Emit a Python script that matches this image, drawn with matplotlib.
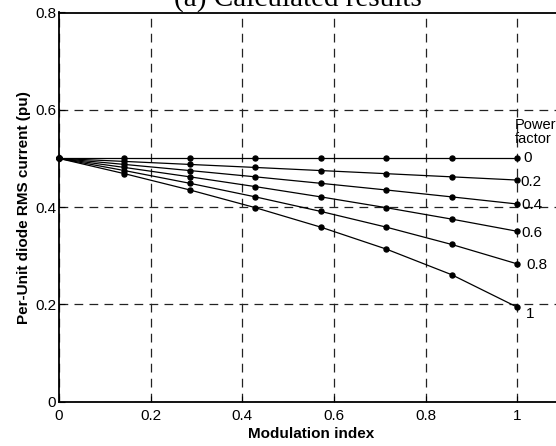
import matplotlib
matplotlib.use("Agg")
import matplotlib.pyplot as plt

modulation_index = [0, 0.1429, 0.2857, 0.4286, 0.5714, 0.7143, 0.8571, 1.0]
power_factors = ["0", "0.2", "0.4", "0.6", "0.8", "1"]
rms_pf0 = [0.5, 0.5, 0.5, 0.5, 0.5, 0.5, 0.5, 0.5]
rms_pf02 = [0.5, 0.4939, 0.4877, 0.4815, 0.4751, 0.4687, 0.4622, 0.4556]
rms_pf04 = [0.5, 0.4877, 0.4751, 0.4622, 0.4489, 0.4352, 0.4210, 0.4064]
rms_pf06 = [0.5, 0.4815, 0.4622, 0.4421, 0.4210, 0.3988, 0.3753, 0.3503]
rms_pf08 = [0.5, 0.4751, 0.4489, 0.4210, 0.3911, 0.3588, 0.3232, 0.2833]
rms_pf1 = [0.5, 0.4687, 0.4352, 0.3988, 0.3588, 0.3137, 0.2610, 0.1944]
series = [rms_pf0, rms_pf02, rms_pf04, rms_pf06, rms_pf08, rms_pf1]
x_ticks = [0, 0.2, 0.4, 0.6, 0.8, 1]
x_tick_labels = ["0", "0.2", "0.4", "0.6", "0.8", "1"]
y_ticks = [0, 0.2, 0.4, 0.6, 0.8]
y_tick_labels = ["0", "0.2", "0.4", "0.6", "0.8"]

plt.rcParams['font.family'] = ['Liberation Sans', 'DejaVu Sans']

W, H = 556, 446
fig = plt.figure(figsize=(W / 100, H / 100), dpi=100)
left, right = 59 / W, 563 / W
bottom, top = 1 - 401.7 / H, 1 - 12.5 / H
ax = fig.add_axes([left, bottom, right - left, top - bottom])

for vals in series:
    ax.plot(modulation_index, vals, color='black', lw=0.9, marker='o', ms=3.6,
            clip_on=False, zorder=3)

ax.set_xlim(0, 1.1)
ax.set_ylim(0, 0.8)
ax.set_xticks(x_ticks)
ax.set_xticklabels(x_tick_labels)
ax.set_yticks(y_ticks)
ax.set_yticklabels(y_tick_labels)
ax.tick_params(direction='in', labelsize=11, length=4, pad=2, colors='black')
ax.tick_params(axis='x', pad=5)
for sp in ax.spines.values():
    sp.set_linewidth(1.3)

ax.grid(True, color='#222222', linestyle=(0, (7, 5)), lw=0.9)
ax.set_axisbelow(True)

ax.set_xlabel('Modulation index', fontsize=11, fontweight='bold', labelpad=3)
ax.set_ylabel('Per-Unit diode RMS current (pu)', fontsize=11, fontweight='bold', labelpad=3)

# right-hand labels
offsets = [(0.013, 0), (0.008, -0.003), (0.01, -0.003), (0.01, -0.003), (0.02, -0.003), (0.02, -0.015)]
for lab, vals, (dx, dy) in zip(power_factors, series, offsets):
    ax.text(1 + dx, vals[-1] + dy, lab, fontsize=11, va='center', ha='left', clip_on=False)
ax.text(0.995, 0.583, 'Power\nfactor', fontsize=10.5, va='top', ha='left', linespacing=1.0)

fig.text(298 / W, 1 - 6 / H, '(a) Calculated results', family=['Liberation Serif', 'DejaVu Serif'],
         fontsize=21, ha='center', va='baseline')

fig.savefig('out.png', dpi=100)
